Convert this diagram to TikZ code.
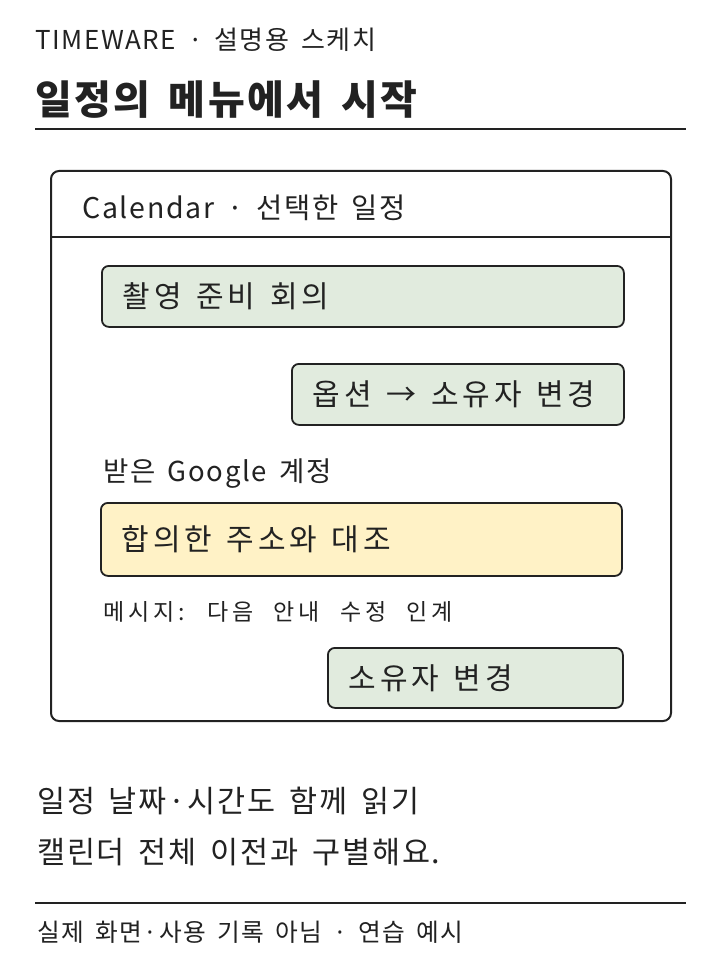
\documentclass[tikz,border=0pt]{standalone}
\usepackage{fontspec}
\setmainfont{Noto Sans CJK KR}[LetterSpace=6, WordSpace=1.6]
\newfontfamily\msgfont{Noto Sans CJK KR}[LetterSpace=17, WordSpace=2.2]
\newfontfamily\cardfont{Noto Sans CJK KR}[LetterSpace=12, WordSpace=1.6]
\newcommand\fsz[1]{\fontsize{#1}{#1}\selectfont}
\newcommand\xs{\kern5pt}
\definecolor{ink}{HTML}{222222}
\definecolor{sage}{HTML}{E1EBDE}
\definecolor{butter}{HTML}{FFF2C6}
\tikzset{
  txt/.style={anchor=west, inner sep=0pt, text=ink},
  rulel/.style={draw=ink, line width=2pt},
  card/.style={draw=ink, line width=1.8pt, rounded corners=7pt, inner xsep=21pt, inner ysep=0pt, align=left, anchor=north west, text=ink, font=\cardfont\fsz{30}},
}
\begin{document}
\begin{tikzpicture}[x=1pt,y=-1pt]
\useasboundingbox (0,0) rectangle (720,960);
\fill[white] (0,0) rectangle (720,960);
\node[txt, font=\fsz{26}] (hdr) at (35,40) {TIMEWARE · 설명용 스케치};
\node[txt, font=\fsz{40}\bfseries] (title) at (35,100) {일정의 메뉴에서 시작};
\coordinate (r1a) at (35,129); \coordinate (r1b) at (686,129);
\draw[rulel] (r1a) -- (r1b);
\node[draw=ink, line width=2pt, rounded corners=8pt, minimum width=620pt, minimum height=550pt, anchor=north west, inner sep=0pt] (frame) at (50,170) {};
\coordinate (s1) at (50,237); \coordinate (s2) at (670,237);
\draw[draw=ink, line width=1.6pt] (s1) -- (s2);
\node[txt, font=\fsz{28.5}] (cal) at (82,208) {Calendar · 선택한 일정};
\node[card, fill=sage, text width=480pt, minimum height=61pt] (b1) at (101,265) {촬영 \xs 준비 \xs 회의};
\node[card, fill=sage, text width=290pt, minimum height=61pt] (b2) at (291,363) {옵션 \xs → \xs 소유자 \xs 변경};
\node[txt, font=\fsz{27.5}] (acct) at (103,474) {받은 Google 계정};
\node[card, fill=butter, text width=479pt, minimum height=73pt] (b3) at (100,502) {합의한 \xs 주소와 \xs 대조};
\node[txt, font=\msgfont\fsz{23}] (msg) at (103,612) {메시지: 다음 안내 수정 인계};
\node[card, fill=sage, text width=253pt, minimum height=60pt] (b4) at (327,647) {소유자 \xs 변경};
\node[txt, font=\fsz{30.5}] (n1) at (37,801) {일정 날짜·시간도 함께 읽기};
\node[txt, font=\fsz{30.5}] (n2) at (37,852) {캘린더 전체 이전과 구별해요.};
\coordinate (r2a) at (35,903); \coordinate (r2b) at (686,903);
\draw[rulel] (r2a) -- (r2b);
\node[txt, font=\fsz{24.7}] (foot) at (37,932) {실제 화면·사용 기록 아님 · 연습 예시};
\end{tikzpicture}
\end{document}
